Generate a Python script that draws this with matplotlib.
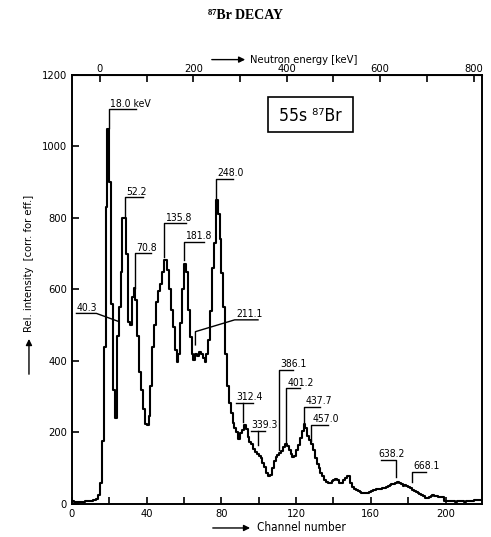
import numpy as np
import matplotlib as mpl
mpl.use('Agg')
from matplotlib import pyplot as plt
from matplotlib.patches import Rectangle, FancyArrowPatch

# spectrum, one value per channel
counts = [9, 6, 5, 5, 5, 6, 6, 7, 7, 8, 9, 10, 11, 13,
          25, 60, 175, 440, 830, 1050, 900,
          560, 320, 240, 470, 550, 650, 800, 800, 700, 510, 500,
          580, 605, 570, 470, 370, 320, 265, 225, 220,
          245, 330, 440, 500, 565, 595, 615, 650, 682, 682,
          655, 600, 543, 496, 431, 398, 420, 506, 600, 670,
          650, 543, 468, 420, 403, 420, 415, 426, 420, 408,
          398, 420, 459, 540, 660, 730, 850, 810, 740, 645,
          550, 420, 330, 282, 254, 226, 212, 200, 182, 198,
          208, 221, 210, 188, 174, 168, 155, 146, 140, 134,
          128, 114, 104, 88, 78, 80, 100, 120, 132, 137,
          143, 148, 158, 168, 162, 150, 140, 132, 135, 150,
          165, 185, 205, 225, 212, 190, 178, 168, 150, 128,
          112, 100, 88, 77, 67, 61, 59, 60, 63, 68,
          70, 68, 60, 58, 66, 72, 77, 78, 58, 47,
          42, 38, 36, 33, 31, 30, 30, 31, 33, 36,
          38, 40, 42, 43, 42, 44, 46, 48, 50, 53,
          55, 57, 60, 62, 60, 55, 49, 52, 50, 48,
          44, 40, 37, 34, 31, 28, 25, 22, 17, 18,
          20, 23, 25, 22, 22, 20, 20, 19, 8, 8,
          7, 8, 7, 8, 6, 7, 7, 8, 7, 6,
          8, 8, 9, 8, 10, 10, 11, 12, 12, 12]
channel = np.arange(len(counts))

# peak labels (keV)
lbl_text = ["18.0 keV", "52.2", "70.8", "135.8", "181.8", "248.0",
            "386.1", "401.2", "437.7", "457.0", "668.1"]
lbl_x = [19.7, 28.6, 33.6, 49.3, 59.8, 77.3, 110.9, 114.5, 124.1, 128.2, 182.1]
lbl_foot = [1052, 804, 604, 690, 682, 850, 150, 170, 230, 175, 62]
lbl_bar = [1104, 858, 701, 785, 734, 909, 375, 323, 272, 221, 90]
lbl_end = [34.5, 38.0, 42.5, 61.3, 70.5, 86.2, 118.4, 122.0, 132.7, 137.1, 189.8]

plt.rcParams['font.family'] = ['DejaVu Sans']
plt.rcParams['font.stretch'] = 'condensed'

fig = plt.figure(figsize=(4.91, 5.37), dpi=100)
ax = fig.add_axes([0.1466, 0.0615, 0.835, 0.7989])

ax.step(channel, counts, where='post', color='black', linewidth=1.5)
ax.set_xlim(0, 219.5)
ax.set_ylim(0, 1200)

ax.set_xticks(np.arange(0, 201, 40))
ax.set_xticks(np.arange(20, 220, 40), minor=True)
ax.set_yticks(np.arange(0, 1201, 200))
ax.tick_params(which='both', direction='in', length=5, width=1.2,
               labelsize=8, top=False, right=False)
for s in ax.spines.values():
    s.set_linewidth(1.4)

# neutron energy axis: channel = 15 + E/4
sec = ax.secondary_xaxis('top', functions=(lambda c: (c - 15) * 4,
                                           lambda e: 15 + e / 4))
sec.set_xticks(np.arange(0, 801, 200))
sec.set_xticks(np.arange(100, 800, 200), minor=True)
sec.tick_params(which='both', direction='in', length=5, width=1.2,
                labelsize=8, pad=0.5)

# labels with leader lines
for t, x, yf, yb, xe in zip(lbl_text, lbl_x, lbl_foot, lbl_bar, lbl_end):
    ax.plot([x, x, xe], [yf, yb, yb], color='black', lw=1)
    ax.annotate(t, (x, yb), xytext=(1, 0.5), textcoords='offset points',
                fontsize=7.5, va='bottom', ha='left')

# T-shaped labels
for t, x0, x1, xs, yb, yf in [("312.4", 87.7, 97.0, 91.6, 282, 230),
                              ("339.3", 96.1, 103.2, 99.8, 205, 165)]:
    ax.plot([x0, x1], [yb, yb], color='black', lw=1)
    ax.plot([xs, xs], [yb, yf], color='black', lw=1)
    ax.annotate(t, (x0, yb), xytext=(0, 0.5), textcoords='offset points',
                fontsize=7.5, va='bottom', ha='left')

# 638.2 with stem at right end
ax.plot([165.7, 173.7, 173.7], [123, 123, 76], color='black', lw=1)
ax.annotate("638.2", (165.7, 123), xytext=(-2, 0.5), textcoords='offset points',
            fontsize=7.5, va='bottom', ha='left')

# slanted leaders
ax.plot([2.4, 13.1, 25.2], [533, 533, 510], color='black', lw=1)
ax.annotate("40.3", (2.4, 533), xytext=(0, 0.5), textcoords='offset points',
            fontsize=7.5, va='bottom', ha='left')
ax.plot([99.6, 87.1, 66.1, 66.1], [515, 515, 482, 445], color='black', lw=1)
ax.annotate("211.1", (87.1, 515), xytext=(1, 0.5), textcoords='offset points',
            fontsize=7.5, va='bottom', ha='left')

# nuclide box
ax.add_patch(Rectangle((104.7, 1041), 45.5, 96, fill=False, ec='black', lw=1.2))
ax.text(127.4, 1086, "55s \u2078\u2077Br", ha='center', va='center', fontsize=12.5)

# axis titles with arrows
fig.text(0.5, 0.972, "\u2078\u2077Br DECAY", ha='center', va='center',
         fontsize=10, fontweight='bold', fontstretch='normal',
         family=['Liberation Serif', 'DejaVu Serif'])
fig.text(0.509, 0.889, "Neutron energy [keV]", ha='left', va='center', fontsize=8)
fig.text(0.523, 0.0168, "Channel number", ha='left', va='center', fontsize=8.5)
fig.text(0.059, 0.382, "Rel. intensity  [corr. for eff.]", ha='center', va='bottom',
         rotation=90, fontsize=8)
arrow = dict(arrowstyle='-|>', color='black', lw=1, mutation_scale=9)
fig.add_artist(FancyArrowPatch((0.4257, 0.889), (0.505, 0.889),
                               transform=fig.transFigure, **arrow))
fig.add_artist(FancyArrowPatch((0.4277, 0.0168), (0.515, 0.0168),
                               transform=fig.transFigure, **arrow))
fig.add_artist(FancyArrowPatch((0.059, 0.298), (0.059, 0.374),
                               transform=fig.transFigure, **arrow))

plt.savefig('out.png', dpi=100)
